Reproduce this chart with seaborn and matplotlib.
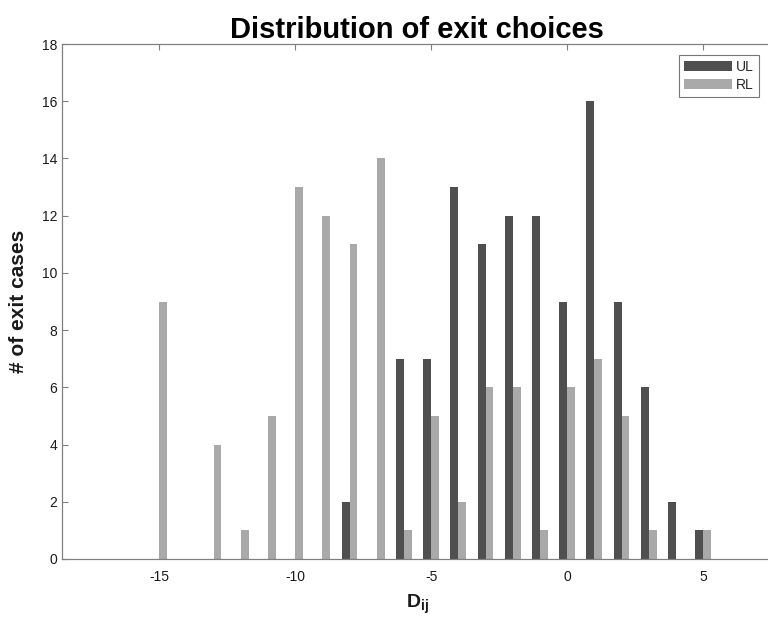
import matplotlib
matplotlib.use("Agg")
import matplotlib.pyplot as plt
import seaborn as sns
import pandas as pd

# Data
d_values = [-15, -14, -13, -12, -11, -10, -9, -8, -7, -6, -5, -4, -3, -2, -1, 0, 1, 2, 3, 4, 5]
ul_counts = [0, 0, 0, 0, 0, 0, 0, 2, 0, 7, 7, 13, 11, 12, 12, 9, 16, 9, 6, 2, 1]
rl_counts = [9, 0, 4, 1, 5, 13, 12, 11, 14, 1, 5, 2, 6, 6, 1, 6, 7, 5, 1, 0, 1]
groups = ["UL", "RL"]
colors = ["#4f4f4f", "#a9a9a9"]
x_ticks = [-15, -10, -5, 0, 5]
y_ticks = [0, 2, 4, 6, 8, 10, 12, 14, 16, 18]

df = pd.DataFrame({
    "D": d_values * 2,
    "count": ul_counts + rl_counts,
    "group": [groups[0]] * len(d_values) + [groups[1]] * len(d_values),
})

sns.set_theme(style="white")
plt.rcParams["font.family"] = ["Liberation Sans", "DejaVu Sans"]
plt.rcParams["mathtext.fontset"] = "custom"
plt.rcParams["mathtext.rm"] = "Liberation Sans"
plt.rcParams["mathtext.bf"] = "Liberation Sans:bold"
plt.rcParams["axes.unicode_minus"] = False

fig = plt.figure(figsize=(7.68, 6.21), dpi=100)
ax = fig.add_axes([62 / 768, (621 - 559) / 621, (772 - 62) / 768, (559 - 44) / 621])

sns.barplot(data=df, x="D", y="count", hue="group", hue_order=groups,
            palette=colors, native_scale=True, width=0.58, gap=0,
            linewidth=0, errorbar=None, ax=ax, saturation=1)

ax.set_xlim(-18.57, 7.53)
ax.set_ylim(0, 18)
ax.set_xticks(x_ticks)
ax.set_yticks(y_ticks)
ax.tick_params(axis="both", direction="in", length=4, width=0.8, color="#808080",
               labelsize=10, labelcolor="#1a1a1a", top=True, bottom=True, left=True, right=False)
ax.tick_params(axis="x", pad=8)
for side in ["left", "bottom", "top", "right"]:
    ax.spines[side].set_color("#808080")
    ax.spines[side].set_linewidth(0.9)

ax.set_title("Distribution of exit choices", fontsize=21, fontweight="bold",
             color="black", pad=4)
ax.set_ylabel("# of exit cases", fontsize=15, fontweight="bold", color="#1a1a1a", labelpad=10)
ax.set_xlabel(r"$\mathbf{D}_{\mathbf{ij}}$", fontsize=14, color="#1a1a1a", labelpad=6)

leg = ax.legend(loc="upper right", bbox_to_anchor=((759 - 62) / 710, (559 - 55) / 515),
                frameon=True, fontsize=10, handlelength=3.45, handleheight=0.75,
                borderpad=0.35, labelspacing=0.3, handletextpad=0.3, borderaxespad=0,
                fancybox=False, edgecolor="#555555", title=None)
leg.get_frame().set_linewidth(0.8)

fig.savefig("out.png", dpi=100)
